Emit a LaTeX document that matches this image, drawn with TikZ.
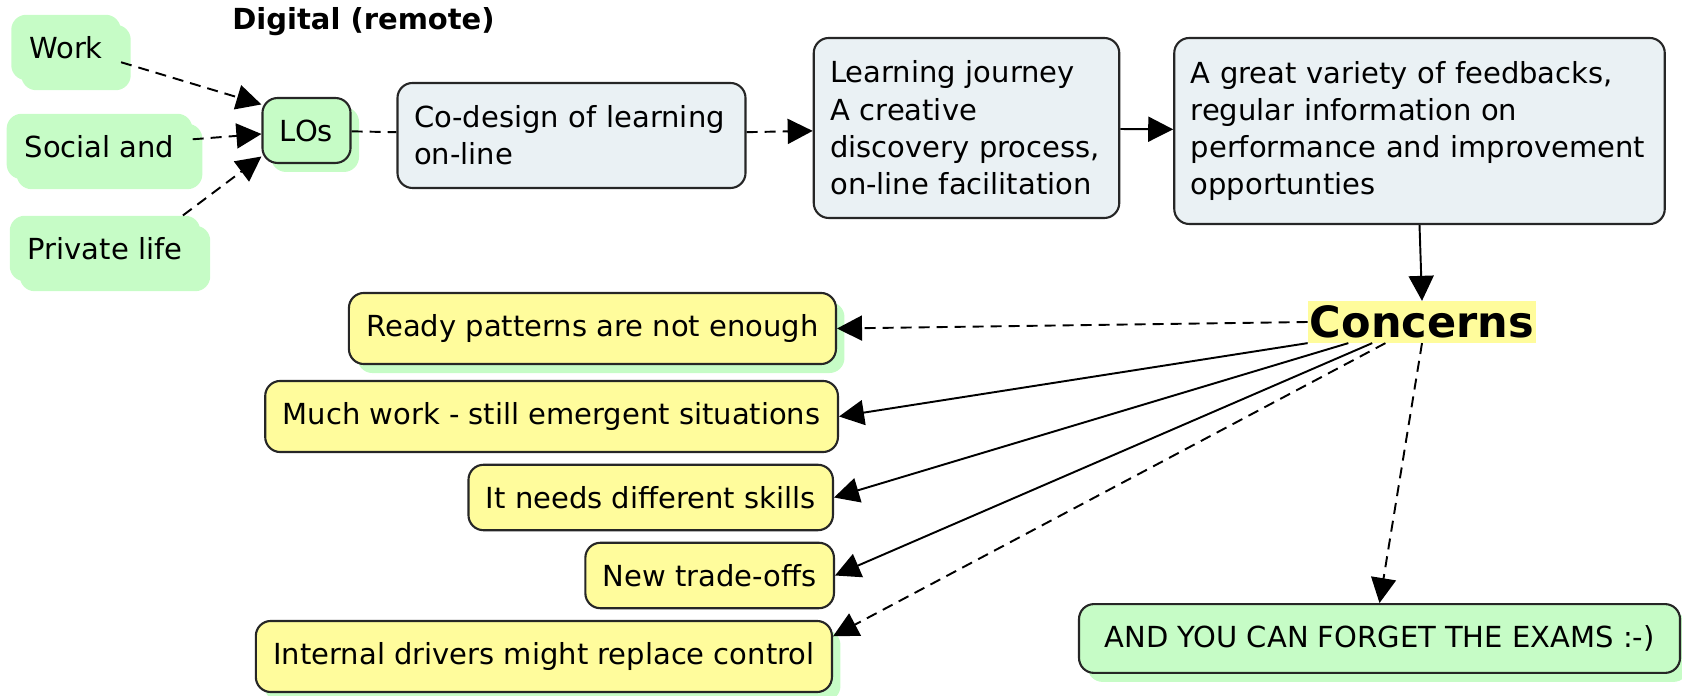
\documentclass[tikz,border=0pt]{standalone}
\usepackage{fontspec}
\setmainfont{DejaVu Sans}
\usepackage{xcolor}
\usepackage{tikz}
\usetikzlibrary{arrows.meta, shadows}
\definecolor{cmgreen}{RGB}{198,252,198}
\definecolor{cmgray}{RGB}{234,241,244}
\definecolor{cmyellow}{RGB}{255,252,156}
\newcommand{\cmfont}{\fontsize{16.5pt}{21.2pt}\selectfont}
\tikzset{
    box/.style={draw=black!85, line width=1.2pt, rounded corners=0.3cm, inner xsep=0.35cm, inner ysep=0.43cm, font=\cmfont},
    greenshadow/.style={general shadow={fill=cmgreen, shadow xshift=0.17cm, shadow yshift=-0.18cm}},
    blob/.style={fill=cmgreen, rounded corners=0.3cm, inner xsep=0.36cm, inner ysep=0.43cm, font=\cmfont,
        general shadow={fill=cmgreen, shadow xshift=0.2cm, shadow yshift=-0.2cm}},
    greenbox/.style={box, fill=cmgreen, greenshadow},
    graybox/.style={box, fill=cmgray, align=left, inner xsep=0.33cm},
    yellowbox/.style={box, fill=cmyellow, anchor=east},
    link/.style={line width=1.1pt, black, -{Triangle[length=0.5cm, width=0.5cm]}},
    dashlink/.style={link, dash pattern=on 0.22cm off 0.14cm}
}

\begin{document}
\begin{tikzpicture}
    \useasboundingbox (0,0) rectangle (33.64,13.92);
    % === TOP ROW ===
    \node[font=\cmfont\bfseries] (digital) at (7.27,13.48) {Digital (remote)};
    \node[blob] (work) at (1.32,12.97) {Work};
    \node[blob] (social) at (1.99,10.99) {Social and};
    \node[blob] (private) at (2.10,8.95) {Private life};
    \node[greenbox] (los) at (6.13,11.31) {LOs};
    \node[graybox, text width=6.3cm, minimum height=2.1cm] (codesign) at (11.43,11.21)
        {Co-design of learning\\on-line};
    \node[graybox, text width=5.45cm, minimum height=3.6cm] (journey) at (19.33,11.36)
        {Learning journey\\A creative\\discovery process,\\on-line facilitation};
    \node[graybox, text width=9.15cm, minimum height=3.72cm] (feedback) at (28.39,11.30)
        {A great variety of feedbacks,\\regular information on\\performance and improvement\\opportunties};
    % inputs to LOs
    \draw[dashlink] (work.-15) -- (los.150);
    \draw[dashlink] (social) -- (los);
    \draw[dashlink] (private.23) -- (los.210);
    % chain
    \draw[line width=1.1pt, dash pattern=on 0.22cm off 0.14cm] (los) -- (codesign);
    \draw[dashlink] (codesign) -- (journey);
    \draw[link] (journey) -- (feedback);
    %
    % === CONCERNS ===
    \node[fill=cmyellow, font=\fontsize{24.5pt}{28pt}\selectfont\bfseries, inner xsep=0.04cm, inner ysep=0.09cm]
        (concerns) at (28.44,7.48) {Concerns};
    \draw[link] (feedback.south) -- (concerns.north);
    \node[yellowbox, greenshadow] (ready) at (16.74,7.35) {Ready patterns are not enough};
    \node[yellowbox] (much) at (16.78,5.59) {Much work - still emergent situations};
    \node[yellowbox] (skills) at (16.68,3.97) {It needs different skills};
    \node[yellowbox] (tradeoffs) at (16.70,2.41) {New trade-offs};
    \node[yellowbox, greenshadow] (internal) at (16.66,0.79) {Internal drivers might replace control};
    \node[greenbox, minimum width=12.02cm] (exams) at (27.59,1.15) {AND YOU CAN FORGET THE EXAMS :-)};
    % fan out
    \draw[dashlink] (concerns.west) -- (ready.east);
    \draw[link] (concerns.south west) -- (much.east);
    \draw[link] (concerns.196) -- (skills.east);
    \draw[link] (concerns.203) -- (tradeoffs.east);
    \draw[dashlink] (concerns.210) -- (internal.4);
    \draw[dashlink] (concerns.south) -- (exams.north);
\end{tikzpicture}
\end{document}
